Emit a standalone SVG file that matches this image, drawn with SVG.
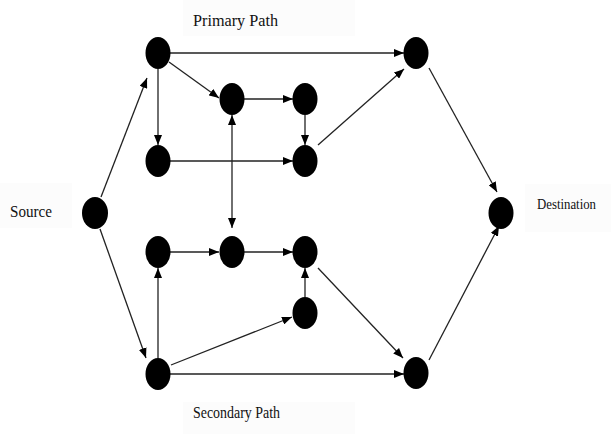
<svg xmlns="http://www.w3.org/2000/svg" width="611" height="434" viewBox="0 0 611 434">
<style>
.node{fill:#000;}
.lbl{font-family:'Liberation Serif','DejaVu Serif','Times New Roman',serif;font-size:17px;fill:#111;}
.bg{fill:#fcfcfc;}
.edge{stroke:#222;stroke-width:1.3;fill:none;marker-end:url(#ah);}
.both{marker-start:url(#ahs);}
</style>
<defs>
<marker id="ah" markerUnits="userSpaceOnUse" markerWidth="10" markerHeight="8" refX="10" refY="4" orient="auto">
<path d="M0,0 L10,4 L0,8 z" fill="#000"/>
</marker>
<marker id="ahs" markerUnits="userSpaceOnUse" markerWidth="10" markerHeight="8" refX="10" refY="4" orient="auto-start-reverse">
<path d="M0,0 L10,4 L0,8 z" fill="#000"/>
</marker>
</defs>
<rect width="611" height="434" fill="#fff"/>
<g id="labels">
<rect class="bg" x="183" y="0" width="172" height="36"/>
<rect class="bg" x="0" y="183" width="72" height="45"/>
<rect class="bg" x="525" y="184" width="86" height="48"/>
<rect class="bg" x="183" y="402" width="172" height="32"/>
<text class="lbl" font-family="Liberation Serif, serif" x="193" y="26" textLength="85" lengthAdjust="spacingAndGlyphs">Primary Path</text>
<text class="lbl" font-family="Liberation Serif, serif" x="10" y="217" textLength="42" lengthAdjust="spacingAndGlyphs">Source</text>
<text class="lbl" font-family="Liberation Serif, serif" style="font-size:15px" x="537" y="209" textLength="59" lengthAdjust="spacingAndGlyphs">Destination</text>
<text class="lbl" font-family="Liberation Serif, serif" x="193" y="418" textLength="87" lengthAdjust="spacingAndGlyphs">Secondary Path</text>
</g>
<g id="connectors">
<line class="edge" x1="101" y1="197" x2="147" y2="78"/>
<line class="edge" x1="100" y1="229" x2="146" y2="358"/>
<line class="edge" x1="170" y1="53" x2="404" y2="53"/>
<line class="edge" x1="158" y1="69" x2="158" y2="145"/>
<line class="edge" x1="169" y1="62" x2="219" y2="98"/>
<line class="edge" x1="244" y1="99" x2="293" y2="99"/>
<line class="edge" x1="305" y1="115" x2="305" y2="145"/>
<line class="edge" x1="170" y1="161" x2="293" y2="161"/>
<line class="edge" x1="318" y1="145" x2="404" y2="69"/>
<line class="edge" x1="429" y1="68" x2="497" y2="192"/>
<line class="edge" x1="429" y1="360" x2="499" y2="226"/>
<line class="edge both" x1="232" y1="115" x2="232" y2="228"/>
<line class="edge" x1="158" y1="358" x2="158" y2="268"/>
<line class="edge" x1="170" y1="252" x2="219" y2="252"/>
<line class="edge" x1="244" y1="252" x2="293" y2="252"/>
<line class="edge" x1="305" y1="297" x2="305" y2="268"/>
<line class="edge" x1="171" y1="365" x2="292" y2="317"/>
<line class="edge" x1="170" y1="374" x2="404" y2="374"/>
<line class="edge" x1="318" y1="268" x2="403" y2="358"/>
</g>
<g id="source"><ellipse class="node" cx="95" cy="213" rx="13" ry="16"/></g>
<g id="p1"><ellipse class="node" cx="158" cy="53" rx="12.5" ry="16"/></g>
<g id="p2"><ellipse class="node" cx="232" cy="99" rx="12.5" ry="16"/></g>
<g id="p3"><ellipse class="node" cx="305" cy="99" rx="12.5" ry="16"/></g>
<g id="p4"><ellipse class="node" cx="158" cy="161" rx="12.5" ry="16"/></g>
<g id="p5"><ellipse class="node" cx="305" cy="161" rx="12.5" ry="16"/></g>
<g id="p6"><ellipse class="node" cx="416" cy="53" rx="12.5" ry="16"/></g>
<g id="destination"><ellipse class="node" cx="501" cy="213" rx="12.5" ry="16"/></g>
<g id="s1"><ellipse class="node" cx="158" cy="252" rx="12.5" ry="16"/></g>
<g id="s2"><ellipse class="node" cx="232" cy="252" rx="12.5" ry="16"/></g>
<g id="s3"><ellipse class="node" cx="305" cy="252" rx="12.5" ry="16"/></g>
<g id="s4"><ellipse class="node" cx="305" cy="313" rx="12.5" ry="16"/></g>
<g id="s5"><ellipse class="node" cx="158" cy="374" rx="12.5" ry="16"/></g>
<g id="s6"><ellipse class="node" cx="416" cy="373" rx="12.5" ry="16"/></g>
</svg>
